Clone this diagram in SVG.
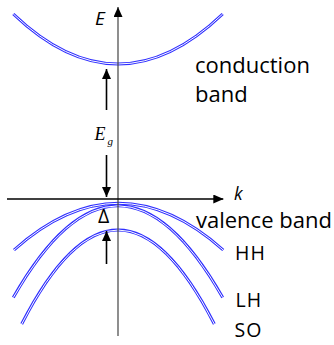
<svg xmlns="http://www.w3.org/2000/svg" width="334" height="345" viewBox="0 0 334 345">
<style>
.band-o{fill:none;stroke:#2f2fff;stroke-width:3}
.band-i{fill:none;stroke:#ffffff;stroke-width:1}
.axis{stroke:#444;stroke-width:1.2;fill:none}
.arr{stroke:#000;stroke-width:1.6;fill:none}
.lbl{font-family:"Open Sans","Liberation Sans",sans-serif;fill:#000}
</style>
<defs>
<marker id="ah" markerUnits="userSpaceOnUse" markerWidth="10" markerHeight="9" refX="10" refY="4.5" orient="auto">
<path d="M0,0 L10,4.5 L0,9 Z" fill="#000"/>
</marker>
</defs>
<rect width="334" height="345" fill="#fff"/>
<g id="bands">
<g id="conduction-band">
<path class="band-o" d="M13.3,14 Q118,114 222.7,14"/>
<path class="band-i" d="M13.3,14 Q118,114 222.7,14"/>
</g>
<g id="hh-band">
<path class="band-o" d="M14,250 Q118.6,156.6 223.2,250"/>
<path class="band-i" d="M14,250 Q118.6,156.6 223.2,250"/>
</g>
<g id="lh-band">
<path class="band-o" d="M13.3,297.5 Q118,114.1 222.7,297.5"/>
<path class="band-i" d="M13.3,297.5 Q118,114.1 222.7,297.5"/>
</g>
<g id="so-band">
<path class="band-o" d="M21.7,324 Q118,136 214.3,324"/>
<path class="band-i" d="M21.7,324 Q118,136 214.3,324"/>
</g>
</g>
<g id="connectors">
<line class="axis" x1="118" y1="336" x2="118" y2="7" marker-end="url(#ah)"/>
<line class="arr" x1="7" y1="199" x2="223.3" y2="199" stroke-width="1.3" marker-end="url(#ah)"/>
<line class="arr" x1="106.5" y1="110" x2="106.5" y2="69" marker-end="url(#ah)"/>
<line class="arr" x1="106.5" y1="155" x2="106.5" y2="197" marker-end="url(#ah)"/>
<line class="arr" x1="106.5" y1="264" x2="106.5" y2="231" marker-end="url(#ah)"/>
</g>
<g id="labels">
<text class="lbl" x="95" y="24.5" font-size="19" font-style="italic">E</text>
<text class="lbl" x="234" y="199.5" font-size="17.5" font-style="italic">k</text>
<text class="lbl" x="196" y="228" font-size="22">valence band</text>
<text class="lbl" x="195" y="72.7" font-size="22">conduction</text>
<text class="lbl" x="195" y="101.7" font-size="22">band</text>
<text class="lbl" x="235" y="259.5" font-size="19.5" letter-spacing="1">HH</text>
<text class="lbl" x="235.5" y="307" font-size="19.5" letter-spacing="1">LH</text>
<text class="lbl" x="234.5" y="337" font-size="19.5" letter-spacing="1">SO</text>
<text class="lbl" x="98" y="223.3" font-size="19.5">Δ</text>
<text x="94.5" y="140" font-family="'Liberation Serif',serif" font-size="18" font-style="italic" fill="#000">E</text>
<text x="107.5" y="145" font-family="'Liberation Serif',serif" font-size="11" font-style="italic" fill="#000">g</text>
</g>
</svg>
